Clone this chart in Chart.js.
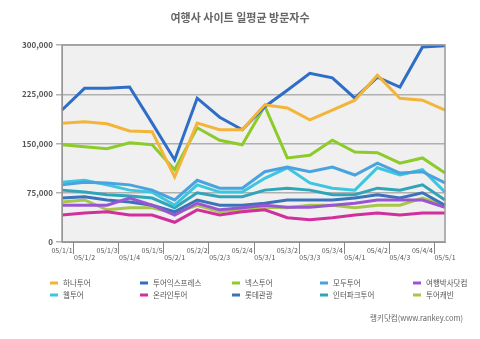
<!DOCTYPE html>
<html>
<head>
<meta charset="utf-8">
<script src="https://cdn.jsdelivr.net/npm/chart.js"></script>
<style>
  body { margin: 0; background: #fff; }
</style>
</head>
<body>
<canvas id="visitChart" width="480" height="339"></canvas>
<script>
const weeks = ["05/1/1", "05/1/2", "05/1/3", "05/1/4", "05/1/5", "05/2/1", "05/2/2", "05/2/3", "05/2/4",
  "05/3/1", "05/3/2", "05/3/3", "05/3/4", "05/4/1", "05/4/2", "05/4/3", "05/4/4", "05/5/1"];

const hanatour = [181000, 183000, 180000, 169000, 168000, 99000, 181000, 171000, 171000, 209000, 204000, 186000, 201000, 216000, 254000, 219000, 216000, 201000];
const tourExpress = [201000, 234000, 234000, 236000, 181000, 125000, 219000, 190000, 171000, 206000, 231000, 257000, 250000, 219000, 251000, 236000, 297000, 299000];
const nextour = [148000, 145000, 142000, 151000, 148000, 110000, 174000, 155000, 148000, 207000, 128000, 132000, 155000, 137000, 136000, 120000, 128000, 105000];
const modetour = [87000, 91000, 90000, 87000, 79000, 64000, 94000, 82000, 82000, 107000, 114000, 107000, 114000, 102000, 120000, 105000, 107000, 90000];
const tourDoctor = [56000, 56000, 56000, 67000, 56000, 41000, 59000, 49000, 52000, 56000, 53000, 53000, 56000, 59000, 64000, 64000, 64000, 53000];
const webtour = [91000, 94000, 87000, 79000, 76000, 56000, 87000, 76000, 76000, 97000, 113000, 90000, 82000, 79000, 113000, 102000, 110000, 76000];
const onlinetour = [41000, 44000, 46000, 41000, 41000, 30000, 49000, 41000, 46000, 49000, 37000, 34000, 37000, 41000, 44000, 41000, 44000, 44000];
const lotteTour = [67000, 69000, 64000, 61000, 56000, 46000, 64000, 56000, 56000, 59000, 64000, 64000, 64000, 67000, 72000, 67000, 75000, 56000];
const interpark = [79000, 76000, 72000, 70000, 67000, 52000, 75000, 69000, 69000, 79000, 82000, 79000, 72000, 72000, 82000, 79000, 87000, 64000];
const tourcabin = [61000, 64000, 49000, 52000, 52000, 44000, 56000, 46000, 49000, 53000, 52000, 56000, 56000, 52000, 56000, 56000, 67000, 56000];

const yTicks = [0, 75000, 150000, 225000, 300000];

const font = "'Noto Sans CJK KR', 'Noto Sans', sans-serif";

const series = [
  { label: "하나투어", data: hanatour, color: "#f2b53a" },
  { label: "투어익스프레스", data: tourExpress, color: "#2f6ec6" },
  { label: "넥스투어", data: nextour, color: "#8ccb2a" },
  { label: "모두투어", data: modetour, color: "#4aa3df" },
  { label: "여행박사닷컴", data: tourDoctor, color: "#9a55d2" },
  { label: "웹투어", data: webtour, color: "#3cc6df" },
  { label: "온라인투어", data: onlinetour, color: "#d1309c" },
  { label: "롯데관광", data: lotteTour, color: "#3b72b9" },
  { label: "인터파크투어", data: interpark, color: "#2fa6b8" },
  { label: "투어캐빈", data: tourcabin, color: "#a8c64a" },
];

// grey wall behind the plot, title, legend and source text
const decor = {
  id: "decor",
  beforeDraw(chart) {
    const { ctx, chartArea: a } = chart;
    ctx.save();
    ctx.fillStyle = "#f0f0f0";
    ctx.fillRect(a.left, a.top, a.right - a.left, a.bottom - a.top);
    ctx.restore();
  },
  afterDraw(chart) {
    const { ctx, chartArea: a } = chart;
    ctx.save();
    ctx.strokeStyle = "#9a9a9a";
    ctx.lineWidth = 1.5;
    ctx.strokeRect(a.left, a.top, a.right - a.left, a.bottom - a.top);

    // small separators under the category axis
    ctx.strokeStyle = "#888";
    ctx.lineWidth = 1;
    const xs = chart.scales.x;
    for (let i = 1; i < weeks.length; i += 2) {
      const x = Math.round(xs.getPixelForValue(i) - (xs.getPixelForValue(1) - xs.getPixelForValue(0)) / 2) + 0.5;
      ctx.beginPath();
      ctx.moveTo(x, a.bottom);
      ctx.lineTo(x, a.bottom + 12);
      ctx.stroke();
    }

    ctx.fillStyle = "#666";
    ctx.font = "bold 11px " + font;
    ctx.textAlign = "center";
    ctx.textBaseline = "middle";
    ctx.fillText("여행사 사이트 일평균 방문자수", 240, 18);

    ctx.font = "7.5px " + font;
    ctx.textAlign = "left";
    const cols = [50, 140, 232, 320, 413];
    chart.data.datasets.forEach((ds, i) => {
      const x = cols[i % 5];
      const y = i < 5 ? 283 : 295;
      ctx.strokeStyle = ds.borderColor;
      ctx.lineWidth = 3;
      ctx.beginPath();
      ctx.moveTo(x, y);
      ctx.lineTo(x + 8, y);
      ctx.stroke();
      ctx.fillStyle = "#555";
      ctx.fillText(ds.label, x + 13, y);
    });

    ctx.fillStyle = "#666";
    ctx.font = "7.5px " + font;
    ctx.textAlign = "right";
    ctx.fillText("랭키닷컴(www.rankey.com)", 463, 318);
    ctx.restore();
  },
};

new Chart(document.getElementById("visitChart"), {
  type: "line",
  data: {
    labels: weeks,
    datasets: series.map((s) => ({
      label: s.label,
      data: s.data,
      borderColor: s.color,
      backgroundColor: s.color,
      borderWidth: 3,
      pointRadius: 0,
      tension: 0,
    })),
  },
  options: {
    responsive: false,
    animation: false,
    layout: { padding: { left: 0, right: 35, top: 45, bottom: 73 } },
    plugins: {
      legend: { display: false },
      title: { display: false },
      tooltip: { enabled: false },
    },
    scales: {
      x: {
        offset: false,
        grid: { display: false },
        border: { color: "#888" },
        afterFit: (s) => { s.height = 24; },
        ticks: {
          autoSkip: false,
          maxRotation: 0,
          minRotation: 0,
          padding: -4,
          color: "#555",
          font: { size: 7, family: font, lineHeight: 1.1 },
          callback: (v, i) => (i % 2 === 0 ? [weeks[i], ""] : ["", weeks[i]]),
        },
      },
      y: {
        min: 0,
        max: 300000,
        afterFit: (s) => { s.width = 62; },
        afterBuildTicks: (s) => { s.ticks = yTicks.map((v) => ({ value: v })); },
        grid: { color: "#b0b0b0", lineWidth: 1.5, tickLength: 6 },
        border: { color: "#888" },
        ticks: {
          color: "#555",
          padding: 3,
          font: { size: 8, weight: "bold", family: font },
          callback: (v) => v.toLocaleString("en-US"),
        },
      },
    },
  },
  plugins: [decor],
});
</script>
</body>
</html>
